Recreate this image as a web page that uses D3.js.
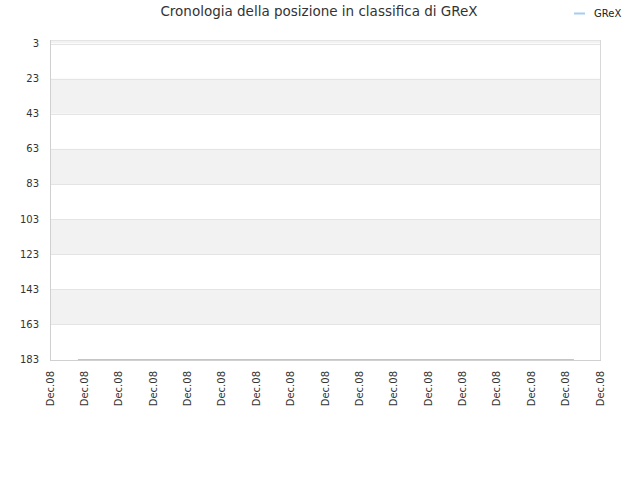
<!DOCTYPE html>
<html><head><meta charset="utf-8">
<script src="https://cdn.jsdelivr.net/npm/d3@7"></script>
<style>body{margin:0;background:#fff;font-family:"DejaVu Sans",sans-serif;}</style>
</head><body><svg id="c" width="640" height="480"></svg>
<script>
const title = "Cronologia della posizione in classifica di GReX";
const seriesName = "GReX";
const dates = ["2008-12-01T19:30", "2008-12-16T05:45"];
const ranks = [183, 183];
const yTicks = [3, 23, 43, 63, 83, 103, 123, 143, 163, 183];
const xTickLabel = "Dec.08";

const svg = d3.select("#c");
const L = 50, R = 600, T = 40, B = 360;
const parse = d3.timeParse("%Y-%m-%dT%H:%M");
const x0 = parse("2008-12-01T00:00"), x1 = parse("2008-12-17T00:00");
const x = d3.scaleTime().domain([x0, x1]).range([L, R]);
const y = d3.scaleLinear().domain([1, 183]).range([T, B - 0.5]);

// bands
const bandEdges = [1].concat(yTicks);
for (let i = 0; i < bandEdges.length - 1; i++) {
  const a = bandEdges[i], b = bandEdges[i + 1];
  svg.append("rect").attr("x", L).attr("width", R - L)
    .attr("y", y(a)).attr("height", y(b) - y(a))
    .attr("fill", i % 2 === 0 ? "#f2f2f2" : "#ffffff");
}
// grid lines
svg.append("g").selectAll("line").data(yTicks.slice(0, -1)).join("line")
  .attr("x1", L).attr("x2", R)
  .attr("y1", d => Math.round(y(d)) + 0.5).attr("y2", d => Math.round(y(d)) + 0.5)
  .attr("stroke", "#e4e4e4");
svg.append("line").attr("x1", L).attr("x2", R).attr("y1", T + 0.5).attr("y2", T + 0.5).attr("stroke", "#e4e4e4");
// border
svg.append("line").attr("x1", L + 0.5).attr("x2", L + 0.5).attr("y1", T).attr("y2", B).attr("stroke", "#d0d0d0");
svg.append("line").attr("x1", R + 0.5).attr("x2", R + 0.5).attr("y1", T).attr("y2", B).attr("stroke", "#d8d8d8");
svg.append("line").attr("x1", L).attr("x2", R + 1).attr("y1", B + 0.5).attr("y2", B + 0.5).attr("stroke", "#d0d0d0");

// y labels
svg.append("g").selectAll("text").data(yTicks).join("text")
  .attr("x", 39).attr("y", d => y(d)).attr("dy", "0.35em")
  .attr("text-anchor", "end").attr("font-size", 10).attr("fill", "#333")
  .text(d => d);

// x ticks
const xTicks = d3.timeDay.range(x0, d3.timeDay.offset(x1, 1));
svg.append("g").selectAll("text").data(xTicks).join("text")
  .attr("transform", d => `translate(${x(d) + 3.5},371) rotate(-90)`)
  .attr("text-anchor", "end").attr("font-size", 10).attr("fill", "#333")
  .text(xTickLabel);

// line
const data = dates.map((d, i) => ({ d: parse(d), v: ranks[i] }));
svg.append("path").datum(data)
  .attr("d", d3.line().x(p => x(p.d)).y(p => y(p.v)))
  .attr("fill", "none").attr("stroke", "#a6ccf2").attr("stroke-width", 1.2);

// title
svg.append("text").attr("x", 319).attr("y", 16).attr("text-anchor", "middle")
  .attr("font-size", 13.5).attr("fill", "#333").text(title);

// legend
svg.append("line").attr("x1", 574).attr("x2", 585).attr("y1", 13.5).attr("y2", 13.5)
  .attr("stroke", "#a6ccf2").attr("stroke-width", 2);
svg.append("text").attr("x", 594).attr("y", 17).attr("font-size", 10).attr("fill", "#222").text(seriesName);
</script></body></html>
